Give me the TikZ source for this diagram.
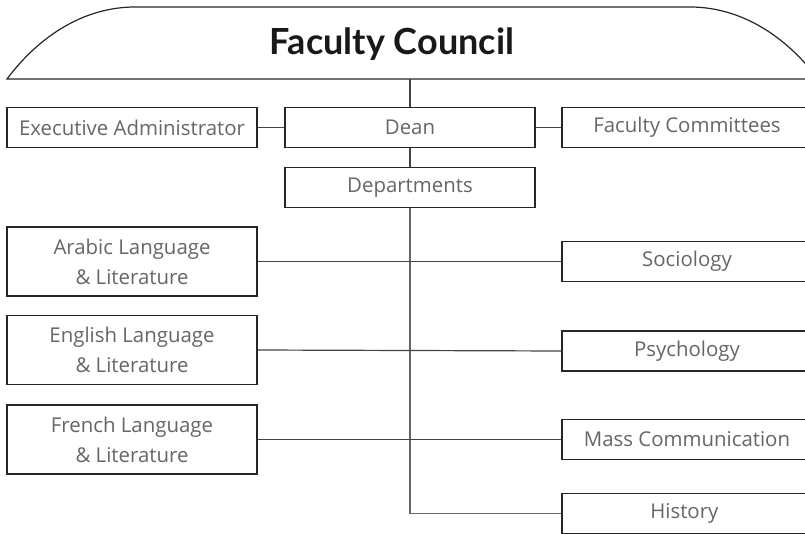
\documentclass[tikz,border=0pt]{standalone}
\usepackage{fontspec}
\setmainfont{Open Sans}
\newfontfamily\titlefont{Lato}
\definecolor{txtgray}{HTML}{666666}
\definecolor{linegray}{HTML}{444444}

\begin{document}
\begin{tikzpicture}
		[
			x=0.75pt, y=-0.75pt,
			unit/.style={draw=black!85, line width=0.9pt, fill=white, text=txtgray,
				font=\fontsize{15.3}{22.5}\selectfont, align=center,
				minimum width=187.5pt, minimum height=30pt, inner sep=0pt},
			dept/.style={unit, minimum height=51.75pt},
			link/.style={draw=linegray, line width=0.9pt},
		]

		\clip (0,0) rectangle (805,534);

		% Council
		\draw[line width=0.9pt, draw=black!85]
			(7,79) .. controls (40,35) and (85,7) .. (135,7)
			-- (690,7) .. controls (740,7) and (785,35) .. (818,79) -- cycle;
		\node[font=\titlefont\fontsize{27}{30}\selectfont\bfseries, text=black!90] (title) at (392,44) {Faculty Council};
		\coordinate (council) at (410,79);

		% Nodes
		\foreach \style/\name/\x/\y/\text in
		{
			unit/exec/132/127.5/Executive Administrator,
			unit/dean/410/127.5/Dean,
			unit/comm/687/127.5/Faculty Committees,
			unit/deps/410/187.5/Departments,
			dept/arab/132/261.5/{Arabic Language\\\& Literature},
			dept/engl/132/350/{English Language\\\& Literature},
			dept/fren/132/439.5/{French Language\\\& Literature},
			unit/soci/687/261.5/Sociology,
			unit/psyc/687/351/Psychology,
			unit/mass/687/439.5/Mass Communication,
			unit/hist/687/513.5/History
		}
			\node[\style] (\name) at (\x,\y) {\text};

		% Edges
		\draw[link] (council) -- (dean.north);
		\draw[link] (dean.south) -- (deps.north);
		\draw[link] (exec) -- (dean);
		\draw[link] (dean) -- (comm);
		\draw[link, draw=black!60] (deps.south) |- (hist.west);
		\foreach \u/\v in
		{
			arab/soci,
			engl/psyc,
			fren/mass}
			\draw[link] (\u.east) -- (\v.west);

		\end{tikzpicture}
\end{document}
